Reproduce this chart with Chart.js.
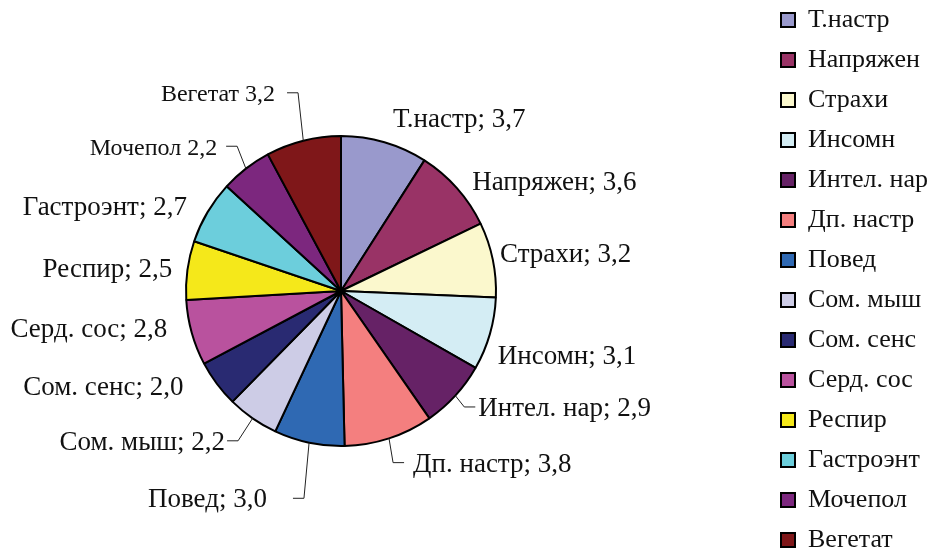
<!DOCTYPE html>
<html>
<head>
<meta charset="utf-8">
<script src="https://cdn.jsdelivr.net/npm/chart.js@4.4.1/dist/chart.umd.min.js"></script>
<style>
  html, body { margin: 0; padding: 0; background: #fff; }
  #wrap { width: 934px; height: 549px; }
</style>
</head>
<body>
<div id="wrap"><canvas id="chart" width="934" height="549"></canvas></div>
<script>
const categories = ['Т.настр', 'Напряжен', 'Страхи', 'Инсомн', 'Интел. нар', 'Дп. настр', 'Повед',
    'Сом. мыш', 'Сом. сенс', 'Серд. сос', 'Респир', 'Гастроэнт', 'Мочепол', 'Вегетат'];
const values = [3.7, 3.6, 3.2, 3.1, 2.9, 3.8, 3.0, 2.2, 2.0, 2.8, 2.5, 2.7, 2.2, 3.2];
const colors = ['#9999cc', '#993366', '#fbf8cd', '#d4edf4', '#662266', '#f47f7f', '#2f69b3',
    '#cdcce6', '#292a72', '#b9529e', '#f5e81a', '#6ccedc', '#7c277e', '#7f1719'];
// the last two labels in the original are written without the semicolon
const separators = ['; ', '; ', '; ', '; ', '; ', '; ', '; ', '; ', '; ', '; ', '; ', '; ', ' ', ' '];

const FONT = "'Liberation Serif', 'Times New Roman', serif";

// labels around the pie, some with a bent leader line
const sliceLabels = {
    id: 'sliceLabels',
    afterDatasetsDraw(chart, args, opts) {
        const ctx = chart.ctx;
        const meta = chart.getDatasetMeta(0);
        ctx.save();
        ctx.fillStyle = '#111';
        ctx.strokeStyle = '#222';
        ctx.lineWidth = 1;
        ctx.textBaseline = 'middle';
        meta.data.forEach((arc, i) => {
            const p = arc.getProps(['x', 'y', 'startAngle', 'endAngle', 'outerRadius'], true);
            const mid = (p.startAngle + p.endAngle) / 2;
            const a = mid + opts.nudge[i] * Math.PI / 180;
            const r = p.outerRadius + opts.gaps[i];
            const onRight = Math.cos(mid) >= 0;
            const lx = p.x + Math.cos(a) * r;
            const ly = p.y + Math.sin(a) * r;
            const dir = onRight ? 1 : -1;
            if (opts.leaders[i] !== null) {
                const end = lx - dir * opts.leaders[i];
                ctx.beginPath();
                ctx.moveTo(p.x + Math.cos(mid) * p.outerRadius, p.y + Math.sin(mid) * p.outerRadius);
                ctx.lineTo(end - dir * 11, ly - 2);
                ctx.lineTo(end, ly - 2);
                ctx.stroke();
            }
            ctx.font = opts.sizes[i] + 'px ' + FONT;
            ctx.textAlign = onRight ? 'left' : 'right';
            const text = categories[i] + separators[i] + values[i].toFixed(1).replace('.', ',');
            ctx.fillText(text, lx, ly);
        });
        ctx.restore();
    }
};

// pie centre and legend column placed like the original figure
const placement = {
    id: 'placement',
    afterLayout(chart, args, opts) {
        const a = chart.chartArea;
        a.left = opts.cx - opts.half;
        a.right = opts.cx + opts.half;
        a.top = opts.cy - opts.half;
        a.bottom = opts.cy + opts.half;
        a.width = a.height = opts.half * 2;
        const lg = chart.legend;
        const w = lg.width;
        lg.left = opts.legendLeft;
        lg.right = lg.left + w;
        lg.top = opts.legendTop;
        lg.bottom = lg.top + lg.height;
    }
};

new Chart(document.getElementById('chart'), {
    type: 'pie',
    data: {
        labels: categories,
        datasets: [{
            data: values,
            backgroundColor: colors,
            borderColor: '#000',
            borderWidth: 2
        }]
    },
    options: {
        responsive: false,
        animation: false,
        radius: 155,
        layout: { padding: { top: -30, bottom: -30 } },
        plugins: {
            tooltip: { enabled: false },
            legend: {
                position: 'right',
                align: 'start',
                labels: {
                    font: { family: FONT, size: 26 },
                    color: '#111',
                    boxWidth: 14,
                    boxHeight: 14,
                    padding: 14
                }
            },
            placement: { cx: 341, cy: 291, half: 200, legendLeft: 767, legendTop: -7 },
            sliceLabels: {
                gaps: [24, 15, 8, 15, 26, 33, 67, 36, 30, 23, 15, 20, 34, 52],
                nudge: [0.6, 2.1, -1.1, 6.7, -1.8, -4.5, 7.6, 2.6, 5.1, 3.0, -0.6, -2.3, -3.1, -4.5],
                leaders: [null, null, null, null, 3, 9, 26, 2, null, null, null, null, 9, 12],
                sizes: [27, 27, 27, 27, 27, 27, 27, 27, 27, 27, 27, 27, 24, 24]
            }
        }
    },
    plugins: [placement, sliceLabels]
});
</script>
</body>
</html>
